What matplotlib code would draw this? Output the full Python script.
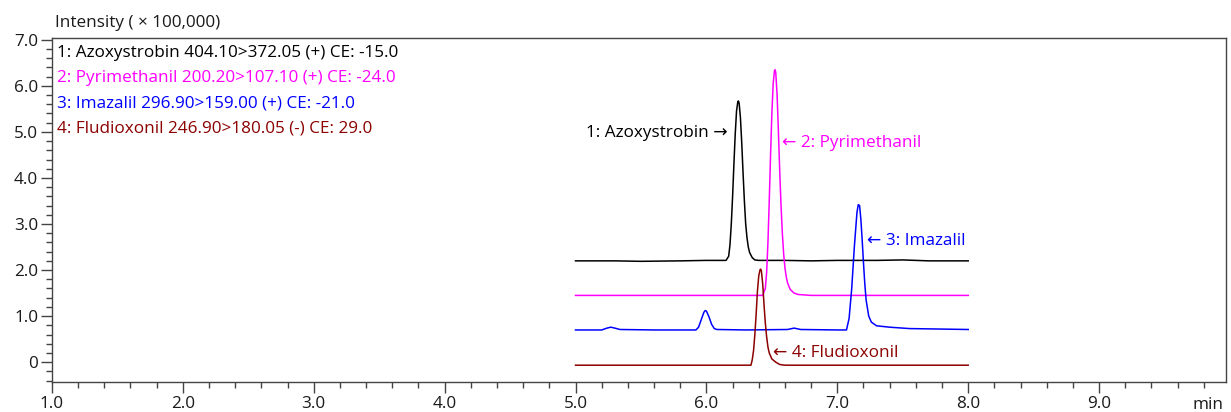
import matplotlib
matplotlib.use("Agg")
import matplotlib.pyplot as plt
from matplotlib.ticker import MultipleLocator, FixedLocator

plt.rcParams["font.family"] = ["Open Sans", "DejaVu Sans"]

# --- trace data (time in min, intensity x 100,000) ---
azo_t = [5.0, 5.3, 5.5, 5.8, 6.0, 6.15, 6.17, 6.18, 6.19, 6.20, 6.21, 6.22,
         6.23, 6.24, 6.245, 6.25, 6.26, 6.27, 6.28, 6.29, 6.30, 6.31, 6.32,
         6.33, 6.35, 6.37, 6.40, 6.6, 6.8, 7.0, 7.3, 7.5, 7.7, 8.0]
azo_y = [2.20, 2.20, 2.19, 2.20, 2.21, 2.21, 2.30, 2.55, 3.00, 3.60, 4.30, 4.95,
         5.45, 5.66, 5.67, 5.62, 5.30, 4.75, 4.10, 3.50, 3.00, 2.70, 2.50,
         2.38, 2.27, 2.22, 2.21, 2.21, 2.20, 2.21, 2.21, 2.22, 2.20, 2.20]

pyr_t = [5.0, 5.5, 6.0, 6.43, 6.45, 6.46, 6.47, 6.48, 6.49, 6.50, 6.51, 6.52,
         6.525, 6.53, 6.54, 6.55, 6.56, 6.57, 6.58, 6.59, 6.60, 6.61, 6.62,
         6.64, 6.67, 6.70, 6.80, 7.2, 8.0]
pyr_y = [1.45, 1.45, 1.45, 1.45, 1.60, 1.95, 2.60, 3.50, 4.50, 5.40, 6.05, 6.33,
         6.35, 6.28, 5.80, 5.00, 4.15, 3.40, 2.80, 2.35, 2.05, 1.85, 1.72,
         1.58, 1.50, 1.47, 1.45, 1.45, 1.45]

ima_t = [5.0, 5.20, 5.24, 5.27, 5.30, 5.34, 5.6, 5.92, 5.94, 5.96, 5.98, 5.99,
         6.00, 6.02, 6.04, 6.06, 6.08, 6.3, 6.62, 6.67, 6.72, 7.0, 7.07, 7.09,
         7.11, 7.13, 7.15, 7.16, 7.17, 7.18, 7.19, 7.20, 7.21, 7.22, 7.24, 7.26,
         7.30, 7.40, 7.55, 8.0]
ima_y = [0.70, 0.70, 0.74, 0.76, 0.74, 0.71, 0.70, 0.70, 0.76, 0.92, 1.08, 1.12,
         1.11, 0.98, 0.82, 0.73, 0.71, 0.70, 0.71, 0.74, 0.71, 0.70, 0.70, 0.95,
         1.60, 2.50, 3.25, 3.42, 3.40, 3.10, 2.65, 2.15, 1.70, 1.35, 1.00, 0.87,
         0.79, 0.76, 0.73, 0.71]

flu_t = [5.0, 5.5, 6.0, 6.34, 6.35, 6.36, 6.37, 6.38, 6.39, 6.40, 6.41, 6.415,
         6.42, 6.43, 6.44, 6.45, 6.46, 6.47, 6.48, 6.50, 6.53, 6.56, 6.60, 7.0, 8.0]
flu_y = [-0.065, -0.065, -0.065, -0.065, 0.05, 0.25, 0.60, 1.05, 1.55, 1.88, 2.01,
         2.02, 1.98, 1.70, 1.25, 0.85, 0.55, 0.33, 0.20, 0.07, 0.00, -0.05, -0.065,
         -0.065, -0.065]

legend_lines = [
    "1: Azoxystrobin 404.10>372.05 (+) CE: -15.0",
    "2: Pyrimethanil 200.20>107.10 (+) CE: -24.0",
    "3: Imazalil 296.90>159.00 (+) CE: -21.0",
    "4: Fludioxonil 246.90>180.05 (-) CE: 29.0",
]
colors = ["black", "#FF00FF", "#0000FF", "#8B0000"]
FS = 12.3

fig = plt.figure(figsize=(12.31, 4.12), dpi=100)
ax = fig.add_axes([0.0422, 0.0728, 0.9538, 0.8352])

ax.plot(azo_t, azo_y, color=colors[0], lw=1.1)
ax.plot(pyr_t, pyr_y, color=colors[1], lw=1.1)
ax.plot(ima_t, ima_y, color=colors[2], lw=1.1)
ax.plot(flu_t, flu_y, color=colors[3], lw=1.1)

ax.set_xlim(1.0, 9.97)
ax.set_ylim(-0.43, 7.04)

ax.xaxis.set_major_locator(FixedLocator([1, 2, 3, 4, 5, 6, 7, 8, 9]))
ax.xaxis.set_minor_locator(MultipleLocator(0.2))
ax.yaxis.set_major_locator(FixedLocator([0, 1, 2, 3, 4, 5, 6, 7]))
ax.yaxis.set_minor_locator(MultipleLocator(0.2))
ax.set_xticklabels([f"{v:.1f}" for v in range(1, 10)])
ax.set_yticklabels(["0"] + [f"{v:.1f}" for v in range(1, 8)])

ax.tick_params(which="major", length=8, width=1, color="#444444",
               labelsize=FS, labelcolor="#1a1a1a", pad=2)
ax.tick_params(which="minor", length=4, width=1, color="#444444")
for sp in ax.spines.values():
    sp.set_color("#444444")
    sp.set_linewidth(1.0)

# header and unit
fig.text(0.045, 0.945, "Intensity ( \u00d7 100,000)", fontsize=FS,
         color="#1a1a1a", va="center", ha="left")
ax.text(0.985, -0.045, "min", transform=ax.transAxes, fontsize=FS,
        color="#1a1a1a", ha="center", va="top")

# compound list in the upper left
for i, (line, c) in enumerate(zip(legend_lines, colors)):
    ax.text(0.004, 0.955 - i * 0.0725, line, transform=ax.transAxes,
            color=c, fontsize=FS, va="center", ha="left")

# peak labels
ax.text(6.16, 4.98, "1: Azoxystrobin \u2192", color=colors[0], fontsize=FS,
        ha="right", va="center")
ax.text(6.58, 4.76, "\u2190 2: Pyrimethanil", color=colors[1], fontsize=FS,
        ha="left", va="center")
ax.text(7.225, 2.63, "\u2190 3: Imazalil", color=colors[2], fontsize=FS,
        ha="left", va="center")
ax.text(6.51, 0.20, "\u2190 4: Fludioxonil", color=colors[3], fontsize=FS,
        ha="left", va="center")

fig.savefig("out.png", dpi=100)
